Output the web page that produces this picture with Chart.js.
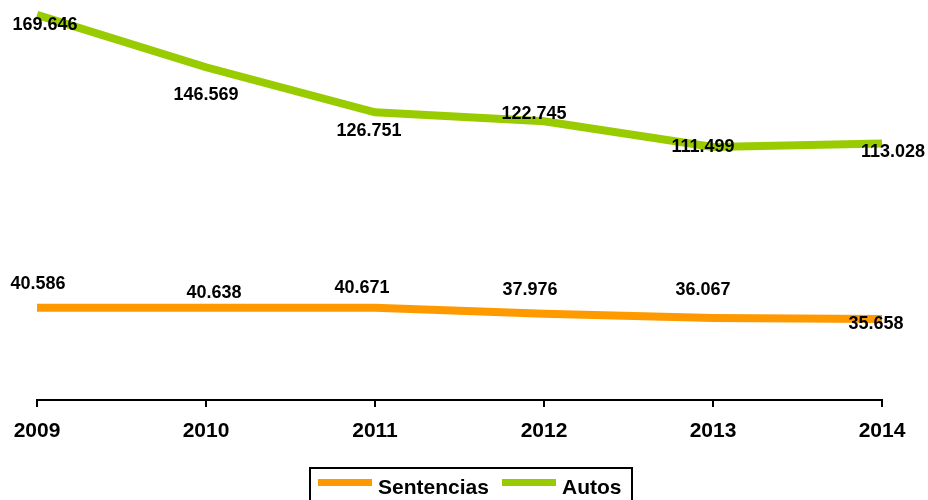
<!DOCTYPE html>
<html>
<head>
<meta charset="utf-8">
<script src="https://cdn.jsdelivr.net/npm/chart.js@4/dist/chart.umd.min.js"></script>
<style>
  html, body { margin: 0; padding: 0; background: #fff; }
  #wrap { position: relative; width: 928px; height: 500px; overflow: hidden; }
  #legend { position: absolute; left: 309px; top: 467px; width: 320px; height: 40px;
    border: 2px solid #000; box-sizing: content-box; font: bold 21px "Liberation Sans", Arial, sans-serif; color: #000; }
  .item { position: absolute; top: 6px; height: 24px; line-height: 24px; }
  .sw { position: absolute; top: 10px; width: 54px; height: 7px; }
</style>
</head>
<body>
<div id="wrap">
  <canvas id="c" width="928" height="500"></canvas>
  <div id="legend">
    <div class="sw" style="left:7px;background:#FF9900"></div>
    <div class="item" style="left:67px">Sentencias</div>
    <div class="sw" style="left:191px;background:#99CC00"></div>
    <div class="item" style="left:251px">Autos</div>
  </div>
</div>
<script>
const categories = ["2009", "2010", "2011", "2012", "2013", "2014"];
const sentencias = [40586, 40638, 40671, 37976, 36067, 35658];
const autos = [169646, 146569, 126751, 122745, 111499, 113028];

// label offsets relative to points (layout only)
const labelOffsets = {
  0: [[1,-24],[8,-15],[-13,-20],[-14,-24],[-10,-28],[-6,5]],
  1: [[8,10],[0,28],[-6,19],[-10,-7],[-10,0],[11,9]]
};

function fmt(v) {
  return String(v).replace(/\B(?=(\d{3})+(?!\d))/g, ".");
}

const labelPlugin = {
  id: 'valueLabels',
  afterDatasetsDraw(chart) {
    const ctx = chart.ctx;
    ctx.save();
    ctx.font = 'bold 18px "Liberation Sans", Arial, sans-serif';
    ctx.fillStyle = '#000';
    ctx.textAlign = 'center';
    ctx.textBaseline = 'middle';
    chart.data.datasets.forEach((ds, di) => {
      const meta = chart.getDatasetMeta(di);
      meta.data.forEach((pt, i) => {
        const off = labelOffsets[di][i];
        ctx.fillText(fmt(ds.data[i]), pt.x + off[0], pt.y + off[1]);
      });
    });
    ctx.restore();
  }
};

new Chart(document.getElementById('c'), {
  type: 'line',
  data: {
    labels: categories,
    datasets: [
      { label: 'Sentencias', data: sentencias, borderColor: '#FF9900', backgroundColor: '#FF9900',
        borderWidth: 8, pointRadius: 0, tension: 0, clip: false },
      { label: 'Autos', data: autos, borderColor: '#99CC00', backgroundColor: '#99CC00',
        borderWidth: 8, pointRadius: 0, tension: 0, clip: false }
    ]
  },
  options: {
    responsive: false,
    animation: false,
    layout: { padding: { left: 37, right: 46, top: 0, bottom: 0 } },
    plugins: { legend: { display: false }, tooltip: { enabled: false } },
    scales: {
      y: { display: false, min: 0, max: 176200 },
      x: {
        offset: false,
        afterFit(axis) { axis.height = 100; },
        border: { display: true, color: '#000', width: 2 },
        grid: { display: true, drawOnChartArea: false, drawTicks: true, tickLength: 7, color: '#000', lineWidth: 2 },
        ticks: { color: '#000', padding: 12, maxRotation: 0, font: { family: '"Liberation Sans", Arial, sans-serif', size: 21, weight: 'bold' } }
      }
    }
  },
  plugins: [labelPlugin]
});
</script>
</body>
</html>
